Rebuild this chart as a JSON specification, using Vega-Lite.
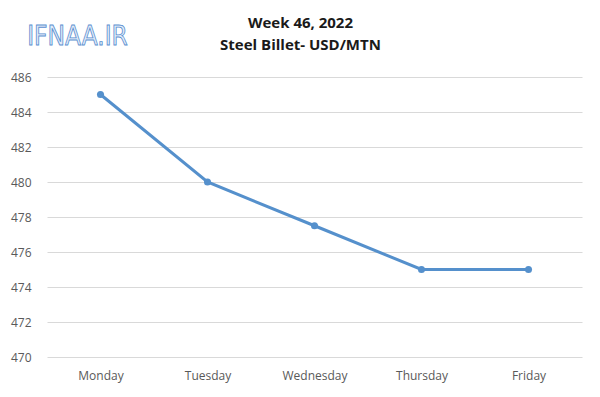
{
  "$schema": "https://vega.github.io/schema/vega-lite/v6.json",
  "width": 535,
  "height": 280,
  "autosize": {"type": "none"},
  "padding": {"left": 47, "top": 77, "right": 18, "bottom": 40},
  "background": "white",
  "title": {
    "text": "Week 46, 2022",
    "subtitle": "Steel Billet- USD/MTN",
    "anchor": "middle",
    "dx": -14,
    "offset": -29,
    "font": "Open Sans",
    "fontSize": 15,
    "fontWeight": "bold",
    "color": "#1a1a1a",
    "subtitleFont": "Open Sans",
    "subtitleFontSize": 15,
    "subtitleFontWeight": "bold",
    "subtitleColor": "#1a1a1a",
    "subtitlePadding": 7
  },
  "config": {
    "view": {"stroke": null},
    "axis": {
      "labelFont": "Open Sans",
      "labelFontSize": 12,
      "labelColor": "#595959",
      "labelOverlap": false,
      "domain": false,
      "ticks": false,
      "title": null
    }
  },
  "data": {
    "values": [
      {"day": "Monday", "price": 485},
      {"day": "Tuesday", "price": 480},
      {"day": "Wednesday", "price": 477.5},
      {"day": "Thursday", "price": 475},
      {"day": "Friday", "price": 475}
    ]
  },
  "encoding": {
    "x": {
      "field": "day",
      "type": "nominal",
      "sort": null,
      "scale": {"paddingInner": 0, "paddingOuter": 0.5},
      "axis": {"labelAngle": 0, "labelPadding": 13, "grid": false}
    },
    "y": {
      "field": "price",
      "type": "quantitative",
      "scale": {"domain": [470, 486], "zero": false},
      "axis": {"values": [470, 472, 474, 476, 478, 480, 482, 484, 486], "labelPadding": 16, "gridColor": "#d9d9d9", "gridWidth": 1}
    }
  },
  "layer": [
    {
      "mark": {"type": "line", "color": "#5590cc", "strokeWidth": 3, "point": {"filled": true, "size": 50, "color": "#5590cc"}}
    },
    {
      "data": {"values": [{"day": "Monday", "price": 488.3, "label": "IFNAA.IR"}]},
      "mark": {"type": "text", "font": "DejaVu Sans Condensed", "fontSize": 26, "fill": "#e3edf9", "stroke": "#5b8fd0", "strokeWidth": 0.8, "dx": -23, "clip": false},
      "encoding": {
        "text": {"field": "label"}
      }
    }
  ]
}
